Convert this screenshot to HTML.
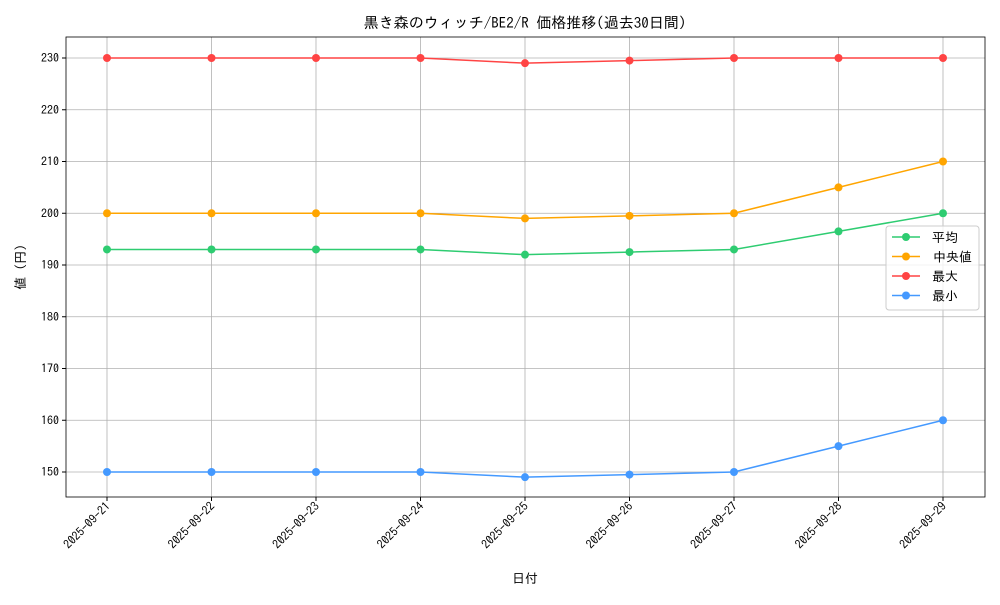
<!DOCTYPE html>
<html><head><meta charset="utf-8"><style>
body{margin:0;background:#fff}
svg text{font-family:"IPAGothic","Noto Sans CJK JP",sans-serif;fill:#000}
</style></head><body>
<svg id="c" width="1000" height="600"></svg>
<script>
const categories=["2025-09-21","2025-09-22","2025-09-23","2025-09-24","2025-09-25","2025-09-26","2025-09-27","2025-09-28","2025-09-29"];
const avgValues=[193,193,193,193,192,192.5,193,196.5,200];
const medianValues=[200,200,200,200,199,199.5,200,205,210];
const maxValues=[230,230,230,230,229,229.5,230,230,230];
const minValues=[150,150,150,150,149,149.5,150,155,160];
const yTicks=[150,160,170,180,190,200,210,220,230];
const seriesNames=["平均","中央値","最大","最小"];
const svg=document.getElementById('c');const NS='http://www.w3.org/2000/svg';
function mk(t,a,p){const e=document.createElementNS(NS,t);for(const k in a)e.setAttribute(k,a[k]);(p||svg).appendChild(e);return e;}
const L=66,R=985,T=37,B=497;
const yMin=145.17,yMax=234.06;
const x=i=>107+i*(943-107)/(categories.length-1);
const y=v=>B-(v-yMin)/(yMax-yMin)*(B-T);
yTicks.forEach(v=>{const l=mk('line',{x1:L,x2:R,y1:y(v),y2:y(v),stroke:'#b0b0b0','stroke-width':0.8});

mk('line',{x1:L-4,x2:L,y1:y(v),y2:y(v),stroke:'#000'});
const t=mk('text',{x:L-7,y:y(v)+4,'text-anchor':'end','font-size':12});t.textContent=v;
});
categories.forEach((c,i)=>{const l=mk('line',{x1:x(i),x2:x(i),y1:T,y2:B,stroke:'#b0b0b0','stroke-width':0.8});

mk('line',{x1:x(i),x2:x(i),y1:B,y2:B+4,stroke:'#000'});
const t=mk('text',{x:x(i)+4,y:B+10,'text-anchor':'end','font-size':12,transform:`rotate(-45 ${x(i)+4} ${B+10})`});t.textContent=c;
});
const fr=mk('rect',{x:L,y:T,width:R-L,height:B-T,fill:'none',stroke:'#000','stroke-width':0.8});

const colors=['#2ecc71','#ffa500','#ff4444','#4499ff'];
const data=[avgValues,medianValues,maxValues,minValues];
const keys=['avg','median','max','min'];
data.forEach((vals,s)=>{const g=mk('g',{});
mk('polyline',{points:vals.map((v,i)=>x(i)+','+y(v)).join(' '),fill:'none',stroke:colors[s],'stroke-width':1.5},g);
vals.forEach((v,i)=>{const c=mk('circle',{cx:x(i),cy:y(v),r:4,fill:colors[s]},g);
});});
const lg=mk('g',{});
mk('rect',{x:886,y:226,width:93,height:84,rx:3,fill:'#fff','fill-opacity':0.8,stroke:'#ccc'},lg);
seriesNames.forEach((n,s)=>{const yy=237+s*19.5;const e=mk('g',{},lg);

mk('line',{x1:892,x2:920,y1:yy,y2:yy,stroke:colors[s],'stroke-width':1.5},e);
mk('circle',{cx:906,cy:yy,r:4,fill:colors[s]},e);
const t=mk('text',{x:n==='中央値'?933:932,y:yy+5,'font-size':13},e);t.textContent=n;});
const tt=mk('text',{x:525,y:28,'text-anchor':'middle','font-size':15});tt.textContent='黒き森のウィッチ/BE2/R 価格推移(過去30日間)';

const xt=mk('text',{x:525,y:583,'text-anchor':'middle','font-size':13});xt.textContent='日付';

const yt=mk('text',{x:25,y:267,'text-anchor':'middle','font-size':13,transform:'rotate(-90 25 267)'});yt.textContent='値 (円)';

</script></body></html>
